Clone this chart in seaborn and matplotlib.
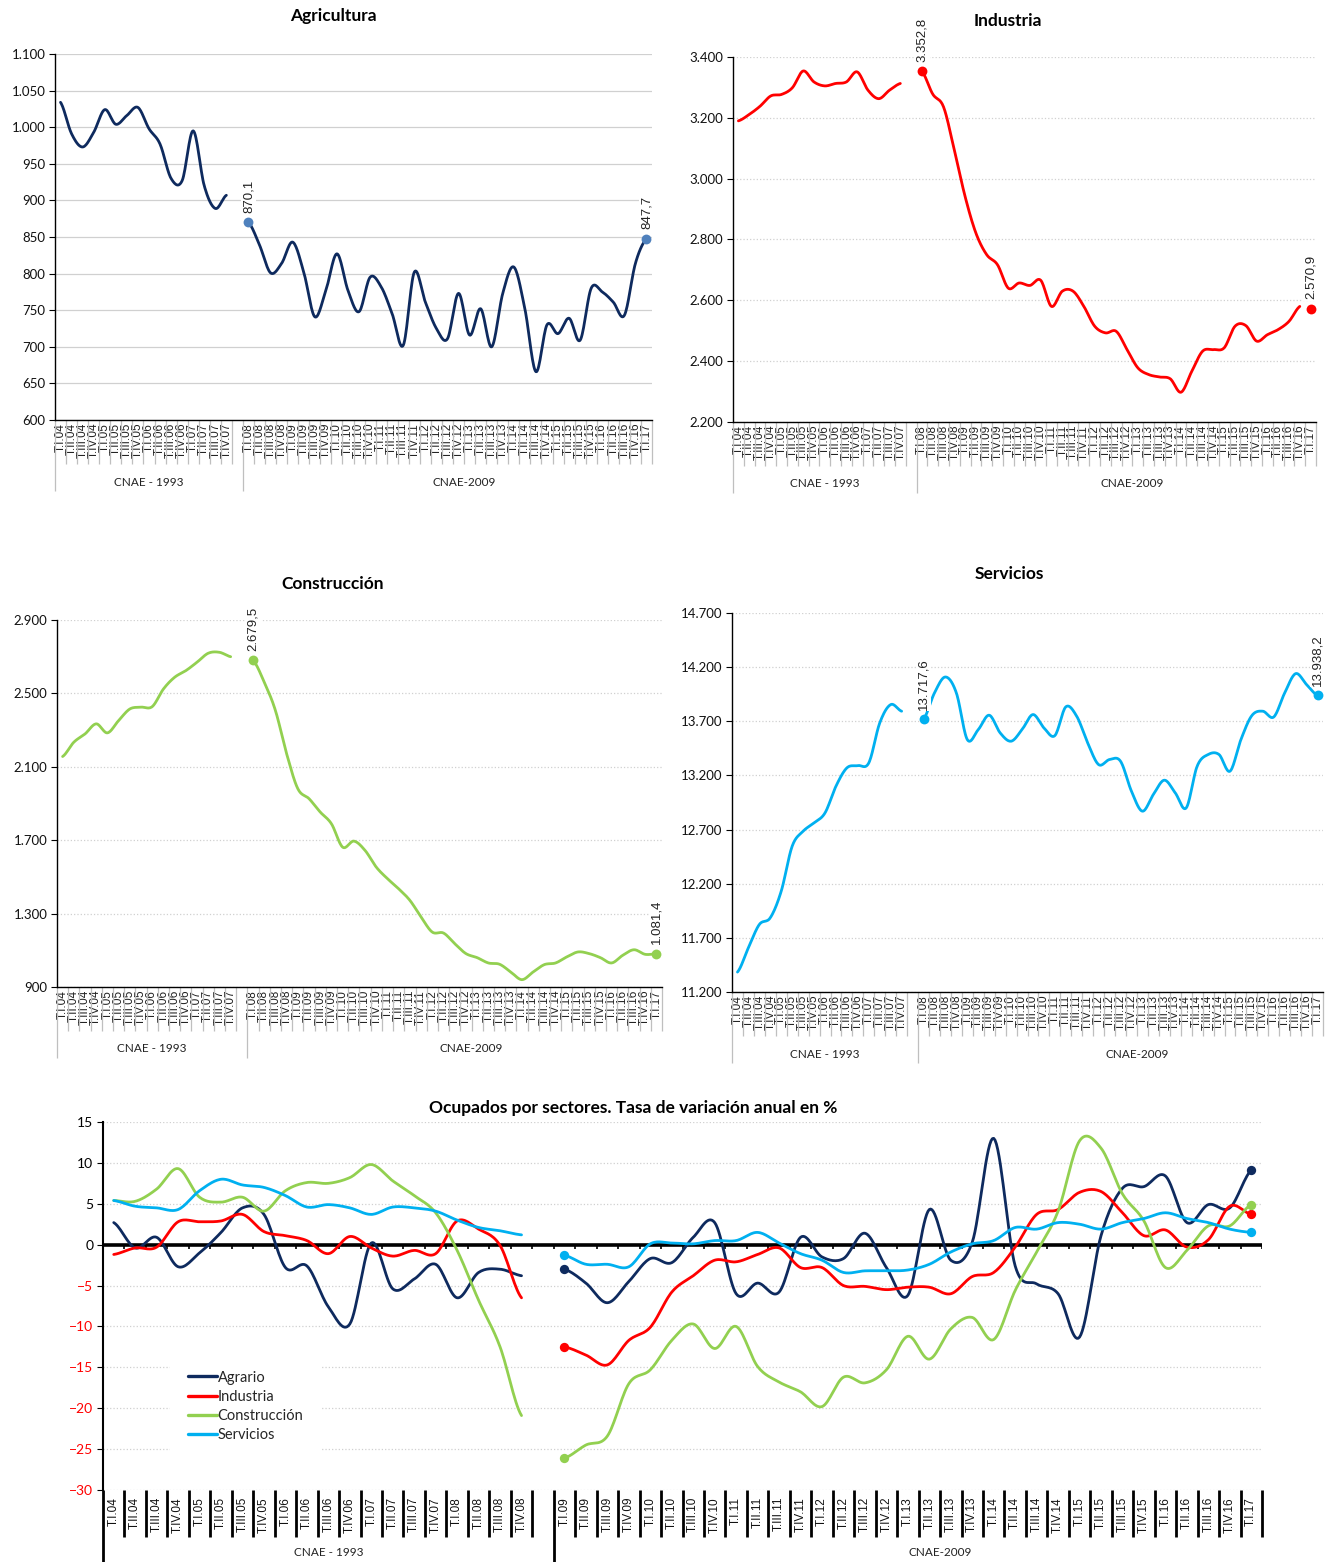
import numpy as np
import matplotlib
matplotlib.use("Agg")
import matplotlib.pyplot as plt
from matplotlib import transforms
from matplotlib.lines import Line2D
from matplotlib.ticker import FixedLocator, FuncFormatter
import seaborn as sns

sns.set_theme(style="white")
plt.rcParams["font.family"] = ["Lato", "DejaVu Sans"]

# ---------------------------------------------------------------- data
ROMAN = ["I", "II", "III", "IV"]
labels_93_top = [f"T.{r}.{y:02d}" for y in range(4, 8) for r in ROMAN]
labels_09_top = [f"T.{r}.{y:02d}" for y in range(8, 17) for r in ROMAN] + ["T.I.17"]
labels_93_bot = [f"T.{r}.{y:02d}" for y in range(4, 9) for r in ROMAN]
labels_09_bot = [f"T.{r}.{y:02d}" for y in range(9, 17) for r in ROMAN] + ["T.I.17"]

# Ocupados (miles), CNAE-1993 (2004-2007) and CNAE-2009 (2008-2017)
agri_93 = [1034, 991, 973, 993, 1024, 1004, 1016, 1027, 998, 977, 930, 927, 995, 920, 889, 907]
agri_09 = [870.1, 839, 801, 814, 843, 802, 741, 777, 827, 777, 748, 795, 782, 745, 702, 802,
           761, 725, 711, 773, 716, 752, 700, 773, 809, 752, 666, 730, 718, 739, 709, 780,
           775, 761, 743, 814, 847.7]

ind_93 = [3190, 3211, 3238, 3272, 3277, 3299, 3354, 3318, 3305, 3313, 3318, 3351, 3291, 3263, 3291, 3313]
ind_09 = [3352.8, 3278, 3236, 3094, 2941, 2821, 2750, 2717, 2640, 2657, 2649, 2666, 2580, 2630,
          2630, 2580, 2515, 2493, 2498, 2438, 2378, 2356, 2348, 2342, 2298, 2367, 2433, 2438,
          2444, 2515, 2517, 2466, 2487, 2504, 2531, 2580, 2570.9]

cons_93 = [2156, 2234, 2279, 2334, 2285, 2352, 2415, 2425, 2428, 2524, 2588, 2624, 2670, 2719, 2724, 2700]
cons_09 = [2679.5, 2561, 2406, 2170, 1980, 1926, 1853, 1789, 1662, 1695, 1644, 1553, 1490, 1435,
           1372, 1281, 1199, 1194, 1136, 1082, 1060, 1031, 1024, 982, 940, 982, 1022, 1031,
           1064, 1091, 1082, 1060, 1031, 1073, 1103, 1078, 1081.4]

serv_93 = [11384, 11609, 11824, 11886, 12132, 12547, 12685, 12762, 12854, 13101, 13270, 13291,
           13316, 13685, 13854, 13793]
serv_09 = [13717.6, 13962, 14109, 13962, 13531, 13623, 13756, 13593, 13516, 13623, 13762, 13639,
           13568, 13833, 13746, 13500, 13300, 13347, 13331, 13054, 12870, 13024, 13156, 13039,
           12900, 13285, 13393, 13393, 13239, 13531, 13753, 13793, 13740, 13962, 14140, 14039,
           13938.2]

# Tasa de variacion anual (%)
agr_rate_93 = [2.7, -0.4, 0.9, -2.7, -1.0, 1.5, 4.5, 3.7, -2.8, -2.6, -7.6, -9.7, 0.2, -5.4,
               -4.2, -2.4, -6.5, -3.4, -3.0, -3.8]
ind_rate_93 = [-1.2, -0.4, -0.3, 2.8, 2.8, 2.9, 3.7, 1.6, 1.1, 0.5, -1.1, 1.0, -0.4, -1.4,
               -0.7, -1.1, 2.9, 1.9, -0.1, -6.5]
con_rate_93 = [5.4, 5.3, 6.8, 9.3, 5.8, 5.2, 5.8, 4.1, 6.6, 7.6, 7.5, 8.2, 9.8, 7.8, 6.0, 3.9,
               -0.7, -6.8, -12.5, -20.9]
ser_rate_93 = [5.4, 4.7, 4.5, 4.3, 6.6, 8.0, 7.3, 7.0, 6.0, 4.6, 4.9, 4.5, 3.7, 4.6, 4.5, 4.1,
               3.0, 2.1, 1.7, 1.2]

agr_rate_09 = [-3.0, -4.7, -7.1, -4.5, -1.7, -2.2, 0.9, 2.7, -6.0, -4.7, -5.8, 0.9, -1.5, -1.7,
               1.4, -2.8, -6.2, 4.3, -1.9, 0.3, 13.0, -2.6, -4.8, -6.0, -11.3, 1.1, 6.9, 7.1,
               8.4, 2.7, 4.9, 4.5, 9.1]
ind_rate_09 = [-12.5, -13.5, -14.7, -11.7, -10.1, -5.8, -3.8, -1.9, -2.1, -1.2, -0.4, -2.8, -2.8,
               -5.0, -5.1, -5.5, -5.2, -5.2, -6.0, -3.9, -3.4, -0.3, 3.7, 4.3, 6.4, 6.5, 3.9,
               1.1, 1.8, -0.3, 0.6, 4.7, 3.7]
con_rate_09 = [-26.1, -24.5, -23.4, -17.0, -15.3, -11.7, -9.7, -12.7, -10.0, -14.9, -16.8, -18.0,
               -19.8, -16.2, -16.9, -15.3, -11.2, -14.0, -10.3, -8.9, -11.6, -5.6, -0.9, 4.1,
               12.7, 11.8, 6.2, 2.9, -2.8, -0.7, 2.3, 2.3, 4.9]
ser_rate_09 = [-1.3, -2.4, -2.4, -2.7, 0.1, 0.2, 0.1, 0.5, 0.5, 1.5, 0.2, -1.1, -1.9, -3.4, -3.2,
               -3.2, -3.1, -2.4, -0.9, 0.1, 0.5, 2.1, 1.9, 2.7, 2.5, 1.9, 2.7, 3.2, 3.9, 3.2,
               2.7, 1.9, 1.5]

sector_names = ["Agrario", "Industria", "Construcción", "Servicios"]

NAVY = "#0E2A5E"
RED = "#FF0000"
GREEN = "#92D050"
SKY = "#00B0F0"
STEEL = "#4F81BD"

# ---------------------------------------------------------------- helpers
W, H = 1330, 1562
fig = plt.figure(figsize=(W / 100, H / 100), dpi=100)


def px_axes(left, top, right, bottom):
    return fig.add_axes([left / W, 1 - bottom / H, (right - left) / W, (bottom - top) / H])


def smooth_path(x, y, steps=16):
    """Catmull-Rom curve through the quarterly points (smoothed line style)."""
    x = np.asarray(x, float)
    y = np.asarray(y, float)
    n = len(x)
    if n < 3:
        return x, y
    px = np.concatenate(([2 * x[0] - x[1]], x, [2 * x[-1] - x[-2]]))
    py = np.concatenate(([y[0]], y, [y[-1]]))
    xs, ys = [], []
    for i in range(n - 1):
        t = np.linspace(0, 1, steps, endpoint=(i == n - 2))
        for p, out in ((px, xs), (py, ys)):
            p0, p1, p2, p3 = p[i], p[i + 1], p[i + 2], p[i + 3]
            out.append(0.5 * (2 * p1 + (-p0 + p2) * t + (2 * p0 - 5 * p1 + 4 * p2 - p3) * t ** 2
                              + (-p0 + 3 * p1 - 3 * p2 + p3) * t ** 3))
    return np.concatenate(xs), np.concatenate(ys)


def draw_smooth(ax, x, y, color, lw, z=3):
    xs, ys = smooth_path(x, y)
    sns.lineplot(x=xs, y=ys, ax=ax, color=color, linewidth=lw, estimator=None,
                 sort=False, zorder=z, solid_capstyle="round")


def fmt_es(v):
    return f"{v:,.1f}".replace(",", "X").replace(".", ",").replace("X", ".")


thousands = FuncFormatter(lambda v, _: f"{int(round(v)):,}".replace(",", "."))


def category_frame(ax, h_px, n_slots, group_edge, short_px, long_px, color, lw,
                   groups, group_y_px, group_size):
    trans = transforms.blended_transform_factory(ax.transData, ax.transAxes)
    for k in range(n_slots + 1):
        x = k - 0.5
        depth = long_px if x in (-0.5, group_edge) else short_px
        ax.plot([x, x], [0, -depth / h_px], transform=trans, clip_on=False,
                color=color, lw=lw, solid_capstyle="butt", zorder=1)
    for gx, text in groups:
        ax.text(gx, -group_y_px / h_px, text, transform=trans, ha="center", va="center",
                fontsize=group_size, color="#222222")


def sector_panel(box, title, title_xy, v93, v09, color, dot_color, yticks,
                 grid_ls, join_last=True):
    ax = px_axes(*box)
    h_px = box[3] - box[1]
    x93 = np.arange(len(v93))
    x09 = np.arange(len(v93) + 1, len(v93) + 1 + len(v09))
    draw_smooth(ax, x93, v93, color, 2.0)
    if join_last:
        draw_smooth(ax, x09, v09, color, 2.0)
    else:
        draw_smooth(ax, x09[:-1], v09[:-1], color, 2.0)
    ends_x = [x09[0], x09[-1]]
    ends_y = [v09[0], v09[-1]]
    sns.scatterplot(x=ends_x, y=ends_y, ax=ax, color=dot_color, s=50, linewidth=0, zorder=5)
    for ex, ey in zip(ends_x, ends_y):
        ax.annotate(fmt_es(ey), (ex, ey), xytext=(0, 7), textcoords="offset points",
                    rotation=90, ha="center", va="bottom", fontsize=9.5,
                    family=["Liberation Sans", "DejaVu Sans"], color="#222222",
                    bbox=dict(fc="white", ec="none", pad=1.2), zorder=6,
                    annotation_clip=False)

    ax.set_xlim(-0.5, len(v93) + len(v09) + 0.5)
    ax.set_ylim(yticks[0], yticks[-1])
    ax.yaxis.set_major_locator(FixedLocator(yticks))
    ax.yaxis.set_major_formatter(thousands)
    ax.yaxis.grid(True, color="#D0D0D0", lw=0.9, ls=grid_ls)
    ax.xaxis.grid(False)
    ax.set_axisbelow(True)
    for s in ("top", "right"):
        ax.spines[s].set_visible(False)
    for s in ("left", "bottom"):
        ax.spines[s].set_color("black")
        ax.spines[s].set_linewidth(1.0)
    ax.tick_params(axis="y", which="major", left=True, length=4, width=0.8,
                   color="black", labelsize=9.5, pad=3, labelcolor="#111111")
    ax.set_xticks(list(x93) + list(x09))
    ax.set_xticklabels(labels_93_top + labels_09_top, rotation=90,
                       family=["Liberation Sans", "DejaVu Sans"], fontsize=8.5,
                       color="#222222")
    ax.tick_params(axis="x", length=0, pad=2)
    ax.set_xlabel("")
    ax.set_ylabel("")
    edge = len(v93) + 0.5
    category_frame(ax, h_px, len(v93) + len(v09) + 1, edge, 44, 71, "#BFBFBF", 0.9,
                   [((-0.5 + edge) / 2, "CNAE - 1993"),
                    ((edge + len(v93) + len(v09) + 0.5) / 2 + 1.5, "CNAE-2009")],
                   62, 8.5)
    fig.text(title_xy[0] / W, 1 - title_xy[1] / H, title, ha="center", va="center",
             fontsize=12.5, fontweight="bold", color="black")
    return ax


# ---------------------------------------------------------------- sector panels
sector_panel((55, 54, 652, 420), "Agricultura", (333, 16), agri_93, agri_09, NAVY, STEEL,
             list(range(600, 1101, 50)), "-")
sector_panel((733, 57, 1316, 422), "Industria", (1008, 21), ind_93, ind_09, RED, RED,
             list(range(2200, 3401, 200)), ":", join_last=False)
sector_panel((57, 620, 662, 987), "Construcción", (333, 584), cons_93, cons_09, GREEN, GREEN,
             list(range(900, 2901, 400)), ":")
sector_panel((732, 613, 1323, 992), "Servicios", (1009, 574), serv_93, serv_09, SKY, SKY,
             list(range(11200, 14701, 500)), ":")

# ---------------------------------------------------------------- annual rates
box = (103, 1122, 1262, 1490)
ax = px_axes(*box)
h_px = box[3] - box[1]
n93, n09 = len(agr_rate_93), len(agr_rate_09)
xb93 = np.arange(n93)
xb09 = np.arange(n93 + 1, n93 + 1 + n09)
n_slots = n93 + 1 + n09

ax.set_xlim(-0.5, n_slots - 0.5)
ax.set_ylim(-30, 15)
ax.yaxis.set_major_locator(FixedLocator(list(range(-30, 16, 5))))
ax.yaxis.grid(True, color="#D0D0D0", lw=0.9, ls=":")
ax.xaxis.grid(False)
ax.set_axisbelow(True)

# zero reference line with small category ticks
ax.axhline(0, color="black", lw=2.6, zorder=2)
ax.vlines(np.arange(n_slots + 1) - 0.5, -0.55, 0, color="black", lw=1.2, zorder=2)

series = [(agr_rate_93, agr_rate_09, NAVY), (ind_rate_93, ind_rate_09, RED),
          (con_rate_93, con_rate_09, GREEN), (ser_rate_93, ser_rate_09, SKY)]
for k, (a, b, c) in enumerate(series):
    draw_smooth(ax, xb93, a, c, 2.0, z=3 + k * 0.1)
    draw_smooth(ax, xb09, b, c, 2.0, z=3 + k * 0.1)
    sns.scatterplot(x=[xb09[0], xb09[-1]], y=[b[0], b[-1]], ax=ax, color=c, s=45,
                    linewidth=0, zorder=5)

for s in ("top", "right", "bottom"):
    ax.spines[s].set_visible(False)
ax.spines["left"].set_color("black")
ax.spines["left"].set_linewidth(1.5)
ax.tick_params(axis="y", left=True, length=4, width=0.8, color="black", labelsize=10, pad=3)
for lbl, v in zip(ax.get_yticklabels(), range(-30, 16, 5)):
    lbl.set_color(RED if v < 0 else "black")

ax.set_xticks(list(xb93) + list(xb09))
ax.set_xticklabels(labels_93_bot + labels_09_bot, rotation=90,
                   family=["Liberation Sans", "DejaVu Sans"], fontsize=8.5, color="#111111")
ax.tick_params(axis="x", length=0, pad=5)
ax.set_xlabel("")
ax.set_ylabel("")
edge = n93 + 0.5
category_frame(ax, h_px, n_slots, edge, 47, 72, "black", 2.0,
               [((-0.5 + edge) / 2, "CNAE - 1993"),
                ((edge + n_slots - 0.5) / 2 + 1.5, "CNAE-2009")],
               63, 8.5)

handles = [Line2D([0], [0], color=c, lw=2.4) for c in (NAVY, RED, GREEN, SKY)]
leg = ax.legend(handles, sector_names, loc="upper left", bbox_to_anchor=(0.058, 0.372),
                frameon=True, facecolor="white", edgecolor="none", framealpha=1,
                fancybox=False, fontsize=10.5, handlelength=2.0, handletextpad=0.05,
                labelspacing=0.35, borderpad=1.2, borderaxespad=0)
leg.set_zorder(7)

fig.text(633 / W, 1 - 1108 / H, "Ocupados por sectores. Tasa de variación anual en %",
         ha="center", va="center", fontsize=12.5, fontweight="bold", color="black")

fig.savefig("out.png", dpi=100, facecolor="white")
